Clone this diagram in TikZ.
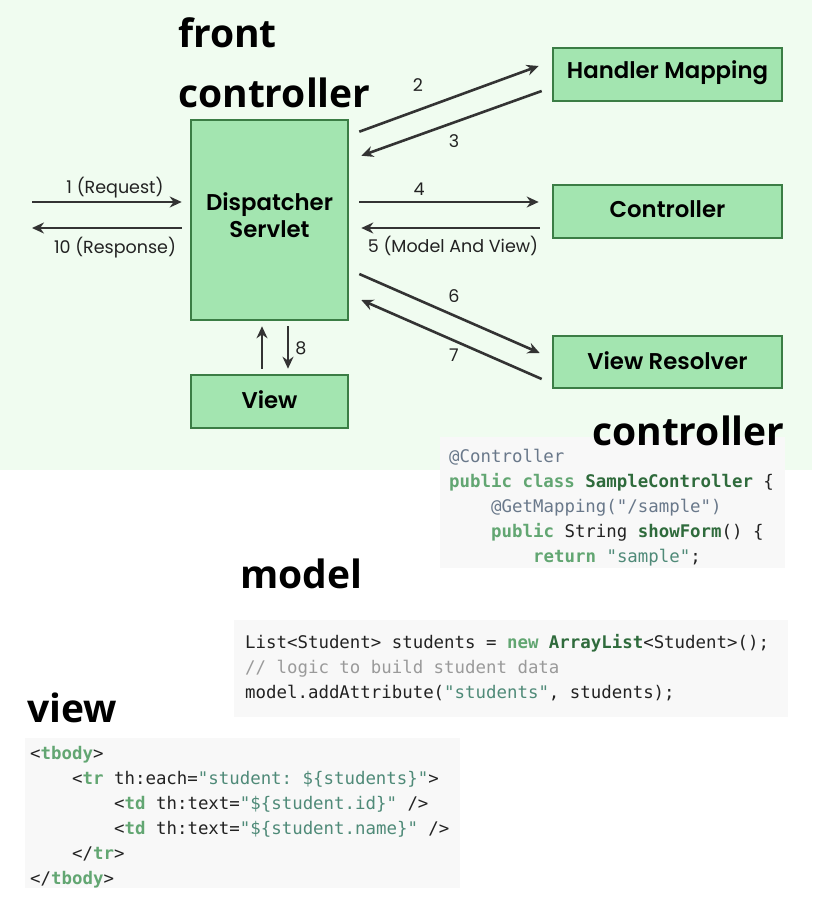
\documentclass[tikz,border=0pt]{standalone}
\usepackage{fontspec}
\setmainfont{Poppins}[BoldFont={Poppins SemiBold}]
\newfontfamily\headfont{Open Sans}
\newfontfamily\codefont{DejaVu Sans Mono}
\usetikzlibrary{arrows.meta,calc}
\definecolor{bggreen}{HTML}{F0FCF0}
\definecolor{boxfill}{HTML}{A3E5B0}
\definecolor{boxline}{HTML}{3B7D45}
\definecolor{arrgray}{HTML}{333333}
\definecolor{codebg}{HTML}{F8F8F8}
\definecolor{kwgreen}{HTML}{62A672}
\definecolor{clsgreen}{HTML}{2F6B3C}
\definecolor{strcol}{HTML}{4F8A78}
\definecolor{anncol}{HTML}{69788A}
\definecolor{comcol}{HTML}{9A9A9A}
\definecolor{txtcol}{HTML}{222222}
\newcommand{\kw}[1]{\textcolor{kwgreen}{\bfseries #1}}
\newcommand{\cls}[1]{\textcolor{clsgreen}{\bfseries #1}}
\newcommand{\str}[1]{\textcolor{strcol}{#1}}
\begin{document}
\begin{tikzpicture}[x=1pt,y=-1pt,
  comp/.style={draw=boxline, fill=boxfill, line width=2.6pt, inner sep=0pt},
  boxtext/.style={font=\bfseries\fontsize{22.8}{27}\selectfont, align=center, text=black, inner sep=0pt},
  arr/.style={draw=arrgray, line width=2.6pt, -{Stealth[length=12pt,width=11pt]}},
  elab/.style={font=\fontsize{17.5}{19}\selectfont, text=txtcol, inner sep=0pt},
  head/.style={font=\headfont\bfseries\fontsize{39}{40}\selectfont, anchor=base west, inner sep=0pt, text=black},
  codeline/.style={font=\codefont\frenchspacing\fontsize{17.4}{25}\selectfont, anchor=base west, inner sep=0pt, text=txtcol},
  codebox/.style={fill=codebg, draw=none}
]
\useasboundingbox (0,0) rectangle (812,916);
\fill[white] (0,0) rectangle (812,916);
\fill[bggreen] (0,0) rectangle (812,470);

% components
\node[comp, minimum width=157pt, minimum height=200pt] (ds) at (269.5,220) {};
\node[boxtext] (dst) at ($(ds.center)+(0,-5)$) {Dispatcher\\Servlet};
\node[comp, minimum width=157pt, minimum height=53pt] (view) at (269.5,401.5) {};
\node[boxtext] (viewt) at ($(view.center)+(0,-1.5)$) {View};
\node[comp, minimum width=229pt, minimum height=53pt] (hm) at (667.5,74.5) {};
\node[boxtext] (hmt) at ($(hm.center)+(0,-1.5)$) {Handler Mapping};
\node[comp, minimum width=229pt, minimum height=53pt] (ctl) at (667.5,211.5) {};
\node[boxtext] (ctlt) at ($(ctl.center)+(0,-2)$) {Controller};
\node[comp, minimum width=229pt, minimum height=52pt] (vr) at (667.5,362) {};
\node[boxtext] (vrt) at ($(vr.center)+(0,-1)$) {View Resolver};

% client ends
\coordinate (cin) at (32,202);
\coordinate (cout) at (32,228);

% arrows
\draw[arr] (cin) -- ($(ds.west)+(-8,-18)$);
\draw[arr] ($(ds.west)+(-8,8)$) -- (cout);
\draw[arr] ($(ds.north east)+(10,13)$) -- ($(hm.west)+(-13,-8.5)$);
\draw[arr] ($(hm.west)+(-10,16.5)$) -- ($(ds.north east)+(12,37)$);
\draw[arr] ($(ds.east)+(10,-18)$) -- ($(ctl.west)+(-13,-9.5)$);
\draw[arr] ($(ctl.west)+(-12,16.5)$) -- ($(ds.east)+(12,8)$);
\draw[arr] ($(ds.east)+(10,54)$) -- ($(vr.west)+(-12,-9)$);
\draw[arr] ($(vr.west)+(-10,17)$) -- ($(ds.east)+(12,80)$);
\draw[arr] ($(view.north)+(-7.5,-5)$) -- ($(ds.south)+(-7.5,5)$);
\draw[arr] ($(ds.south)+(18.5,5)$) -- ($(view.north)+(18.5,-5)$);

% edge labels
\node[elab] (l1) at (115,188) {1 (Request)};
\node[elab] (l10) at (115,248) {10 (Response)};
\node[elab] (l2) at (418,85) {2};
\node[elab] (l3) at (454,141) {3};
\node[elab] (l4) at (419,189) {4};
\node[elab] (l5) at (453,246) {5 (Model And View)};
\node[elab] (l6) at (454,296) {6};
\node[elab] (l7) at (454,355) {7};
\node[elab] (l8) at (301,348) {8};

% code boxes
\fill[codebox] (440,437) rectangle (785,568);
\fill[codebox] (234,620) rectangle (788,717);
\fill[codebox] (25,738) rectangle (460,888);

% controller code
\node[codeline, text=anncol] (c1) at (449,462) {@Controller};
\node[codeline] (c2) at (449,487) {\kw{public class} \cls{SampleController} \{};
\node[codeline, text=anncol] (c3) at (491,512) {@GetMapping("/sample")};
\node[codeline] (c4) at (491,537) {\kw{public} String \cls{showForm}() \{};
\node[codeline] (c5) at (533,562) {\kw{return} \str{"sample"};};

% model code
\node[codeline] (m1) at (245,648) {List<Student> students = \kw{new} \cls{ArrayList}<Student>();};
\node[codeline, text=comcol] (m2) at (245,673) {// logic to build student data};
\node[codeline] (m3) at (245,698) {model.addAttribute(\str{"students"}, students);};

% view code
\node[codeline] (v1) at (30,759) {<\kw{tbody}>};
\node[codeline] (v2) at (72,784) {<\kw{tr} th:each=\str{"student: \$\{students\}"}>};
\node[codeline] (v3) at (114,809) {<\kw{td} th:text=\str{"\$\{student.id\}"} />};
\node[codeline] (v4) at (114,834) {<\kw{td} th:text=\str{"\$\{student.name\}"} />};
\node[codeline] (v5) at (72,859) {</\kw{tr}>};
\node[codeline] (v6) at (30,884) {</\kw{tbody}>};

% headings
\node[head] (h1) at (178,47) {front};
\node[head] (h2) at (178,107) {controller};
\node[head] (h3) at (592,445) {controller};
\node[head] (h4) at (240,588) {model};
\node[head] (h5) at (27,722) {view};
\end{tikzpicture}
\end{document}
